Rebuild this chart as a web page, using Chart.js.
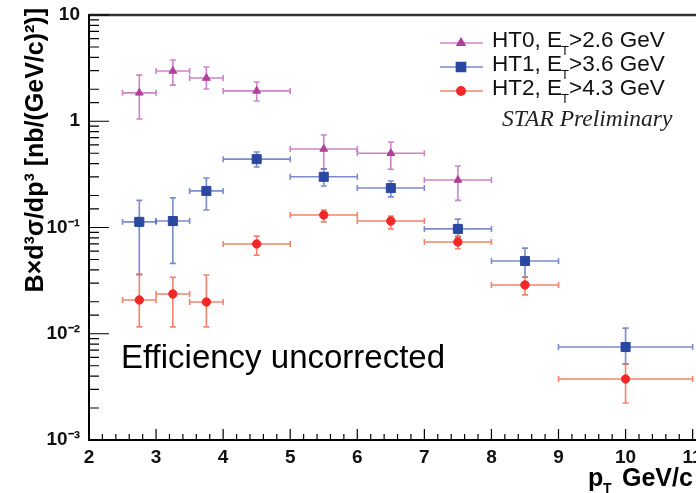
<!DOCTYPE html>
<html>
<head>
<meta charset="utf-8">
<script src="https://cdn.jsdelivr.net/npm/chart.js@4.4.1/dist/chart.umd.min.js"></script>
<style>
  body { margin: 0; background: #fff; }
  #caixa { width: 696px; height: 493px; }
</style>
</head>
<body>
<div id="caixa"><canvas id="meuGrafico" width="696" height="493"></canvas></div>
<script>
// bins de pT (centro, limite inferior, limite superior)
const ptCentro = [2.75, 3.25, 3.75, 4.5, 5.5, 6.5, 7.5, 8.5, 10];
const ptBaixo = [2.5, 3.0, 3.5, 4, 5, 6, 7, 8, 9];
const ptAlto = [3.0, 3.5, 4, 5, 6, 7, 8, 9, 11];

// HT0 (so os 7 primeiros bins)
const ht0 = [1.85, 2.97, 2.55, 1.93, 0.548, 0.50, 0.28];
const ht0Baixo = [1.05, 2.19, 2.01, 1.55, 0.356, 0.353, 0.18];
const ht0Alto = [2.72, 3.77, 3.24, 2.34, 0.742, 0.638, 0.379];

// HT1
const ht1 = [0.113, 0.115, 0.221, 0.44, 0.30, 0.235, 0.097, 0.0484, 0.0075];
const ht1Baixo = [0.0365, 0.046, 0.146, 0.371, 0.246, 0.194, 0.081, 0.034, 0.0052];
const ht1Alto = [0.18, 0.19, 0.292, 0.514, 0.355, 0.274, 0.12, 0.064, 0.0113];

// HT2
const ht2 = [0.0208, 0.0237, 0.0199, 0.070, 0.131, 0.115, 0.073, 0.0288, 0.00375];
const ht2Baixo = [0.0116, 0.0116, 0.0116, 0.055, 0.113, 0.097, 0.063, 0.0232, 0.00223];
const ht2Alto = [0.0357, 0.034, 0.0357, 0.083, 0.146, 0.128, 0.083, 0.034, 0.0052];

const rotulos = ['HT0, E_T>2.6 GeV', 'HT1, E_T>3.6 GeV', 'HT2, E_T>4.3 GeV'];

// marcas do eixo y
const yValoresRotulo = [10, 1, 0.1, 0.01, 0.001];
const yRotulos = ['10', '1', '10⁻¹', '10⁻²', '10⁻³'];

const fonte = '"Liberation Sans", Arial, sans-serif';

function pontos(ys) {
    return ys.map((v, i) => ({ x: ptCentro[i], y: v }));
}

// desenha barras de erro usando as escalas do grafico
const barrasErro = {
    id: 'barrasErro',
    beforeDatasetsDraw(chart) {
        const ctx = chart.ctx;
        const xs = chart.scales.x, ys = chart.scales.y;
        ctx.save();
        chart.data.datasets.forEach((ds) => {
            ctx.strokeStyle = ds.corErro;
            ctx.lineWidth = 1.6;
            ds.data.forEach((p, i) => {
                const x1 = xs.getPixelForValue(ptBaixo[i]);
                const x2 = xs.getPixelForValue(ptAlto[i]);
                const xc = xs.getPixelForValue(p.x);
                const yc = ys.getPixelForValue(p.y);
                const yb = ys.getPixelForValue(ds.erroBaixo[i]);
                const ya = ys.getPixelForValue(ds.erroAlto[i]);
                ctx.beginPath();
                ctx.moveTo(x1, yc); ctx.lineTo(x2, yc);
                ctx.moveTo(xc, ya); ctx.lineTo(xc, yb);
                // pontas
                ctx.moveTo(x1, yc - 3); ctx.lineTo(x1, yc + 3);
                ctx.moveTo(x2, yc - 3); ctx.lineTo(x2, yc + 3);
                ctx.moveTo(xc - 3, ya); ctx.lineTo(xc + 3, ya);
                ctx.moveTo(xc - 3, yb); ctx.lineTo(xc + 3, yb);
                ctx.stroke();
            });
        });
        ctx.restore();
    }
};

// moldura, tracos internos, titulos, legenda e textos
const enfeites = {
    id: 'enfeites',
    afterDraw(chart) {
        const ctx = chart.ctx;
        const a = chart.chartArea;
        const xs = chart.scales.x, ys = chart.scales.y;
        ctx.save();

        // linha de cima
        ctx.strokeStyle = '#333';
        ctx.lineWidth = 2.5;
        ctx.beginPath();
        ctx.moveTo(a.left, a.top); ctx.lineTo(a.right, a.top);
        ctx.stroke();

        // tracos para dentro
        ctx.strokeStyle = '#000';
        ctx.lineWidth = 1.2;
        ctx.beginPath();
        xs.ticks.forEach((t) => {
            const px = xs.getPixelForValue(t.value);
            if (px > a.right) return;
            const inteiro = Math.abs(t.value - Math.round(t.value)) < 1e-6;
            const len = inteiro ? 11 : 6;
            ctx.moveTo(px, a.bottom); ctx.lineTo(px, a.bottom - len);
        });
        ys.ticks.forEach((t) => {
            const py = ys.getPixelForValue(t.value);
            const lg = Math.log10(t.value);
            const maior = Math.abs(lg - Math.round(lg)) < 1e-6;
            const len = maior ? 20 : 10;
            ctx.moveTo(a.left, py); ctx.lineTo(a.left + len, py);
        });
        ctx.stroke();

        ctx.fillStyle = '#000';
        // titulo y
        ctx.save();
        ctx.translate(43, 8);
        ctx.rotate(-Math.PI / 2);
        ctx.font = 'bold 25px ' + fonte;
        ctx.textAlign = 'right';
        ctx.textBaseline = 'alphabetic';
        ctx.fillText('B×d³σ/dp³ [nb/(GeV/c)²)]', 0, 0);
        ctx.restore();

        // titulo x
        ctx.font = 'bold 25px ' + fonte;
        ctx.textAlign = 'left';
        ctx.textBaseline = 'alphabetic';
        ctx.fillText('p', 588, 486);
        ctx.font = 'bold 14px ' + fonte;
        ctx.fillText('T', 603, 493);
        ctx.font = 'bold 25px ' + fonte;
        ctx.fillText('GeV/c', 622, 486);

        // texto grande
        ctx.font = '33px ' + fonte;
        ctx.fillText('Efficiency uncorrected', 121, 368);

        // STAR Preliminary
        ctx.fillStyle = '#222';
        ctx.font = 'italic 23.5px "Liberation Serif", "Times New Roman", serif';
        ctx.fillText('STAR Preliminary', 502, 126);

        // legenda
        const linhas = [43, 67, 91];
        chart.data.datasets.forEach((ds, i) => {
            const y = linhas[i];
            ctx.strokeStyle = ds.corErro;
            ctx.lineWidth = 1.6;
            ctx.beginPath();
            ctx.moveTo(440, y); ctx.lineTo(483, y);
            ctx.stroke();
            ctx.fillStyle = ds.backgroundColor;
            ctx.strokeStyle = ds.borderColor;
            Chart.helpers.drawPoint(ctx, {
                pointStyle: ds.pointStyle, radius: ds.pointRadius,
                rotation: 0, borderWidth: 1
            }, 461, y);
            const partes = ds.label.split('_T');
            ctx.fillStyle = '#111';
            ctx.font = '22.5px ' + fonte;
            let x = 492;
            ctx.fillText(partes[0], x, y + 4);
            x += ctx.measureText(partes[0]).width;
            ctx.font = '13px ' + fonte;
            ctx.fillText('T', x - 1, y + 12);
            x += 7;
            ctx.font = '22.5px ' + fonte;
            ctx.fillText(partes[1], x, y + 4);
        });

        ctx.restore();
    }
};

const dados = {
    datasets: [
        {
            label: rotulos[0],
            data: pontos(ht0),
            erroBaixo: ht0Baixo, erroAlto: ht0Alto,
            pointStyle: 'triangle', pointRadius: 4.5,
            backgroundColor: '#b0409a', borderColor: '#b0409a',
            corErro: 'rgba(190, 90, 180, 0.75)'
        },
        {
            label: rotulos[1],
            data: pontos(ht1),
            erroBaixo: ht1Baixo, erroAlto: ht1Alto,
            pointStyle: 'rect', pointRadius: 6.4,
            backgroundColor: '#2a48a0', borderColor: '#2a48a0',
            corErro: 'rgba(80, 100, 185, 0.75)'
        },
        {
            label: rotulos[2],
            data: pontos(ht2),
            erroBaixo: ht2Baixo, erroAlto: ht2Alto,
            pointStyle: 'circle', pointRadius: 4.2,
            backgroundColor: '#f02828', borderColor: '#f02828',
            corErro: 'rgba(240, 100, 70, 0.8)'
        }
    ]
};

const configuracao = {
    type: 'scatter',
    data: dados,
    plugins: [barrasErro, enfeites],
    options: {
        responsive: false,
        animation: false,
        layout: { autoPadding: false, padding: { top: 15, right: 0, bottom: 0, left: 0 } },
        plugins: {
            legend: { display: false },
            tooltip: { enabled: false }
        },
        elements: { point: { borderWidth: 1, hoverRadius: 0 } },
        scales: {
            x: {
                type: 'linear',
                min: 2,
                max: 11.05,
                border: { display: true, color: '#000', width: 2 },
                grid: { display: false },
                ticks: {
                    stepSize: 0.2,
                    maxTicksLimit: 200,
                    autoSkip: false,
                    includeBounds: false,
                    maxRotation: 0,
                    padding: -2,
                    color: '#111',
                    font: { family: fonte, size: 19, weight: 'bold' },
                    callback: (v) => Math.abs(v - Math.round(v)) < 1e-6 ? String(Math.round(v)) : ''
                },
                afterFit(s) { s.height = 53; s.paddingLeft = 0; s.paddingRight = 0; }
            },
            y: {
                type: 'logarithmic',
                min: 0.001,
                max: 10,
                border: { display: true, color: '#000', width: 2 },
                grid: { display: false },
                ticks: {
                    autoSkip: false,
                    padding: 1,
                    color: '#111',
                    font: { family: fonte, size: 19, weight: 'bold' },
                    callback: (v) => {
                        const k = yValoresRotulo.findIndex((r) => Math.abs(r - v) / r < 1e-6);
                        return k >= 0 ? yRotulos[k] : '';
                    }
                },
                afterFit(s) { s.width = 89; s.paddingTop = 0; s.paddingBottom = 0; }
            }
        }
    }
};

try {
    new Chart(document.getElementById('meuGrafico'), configuracao);
} catch (e) {
    console.log(e);
}
</script>
</body>
</html>
